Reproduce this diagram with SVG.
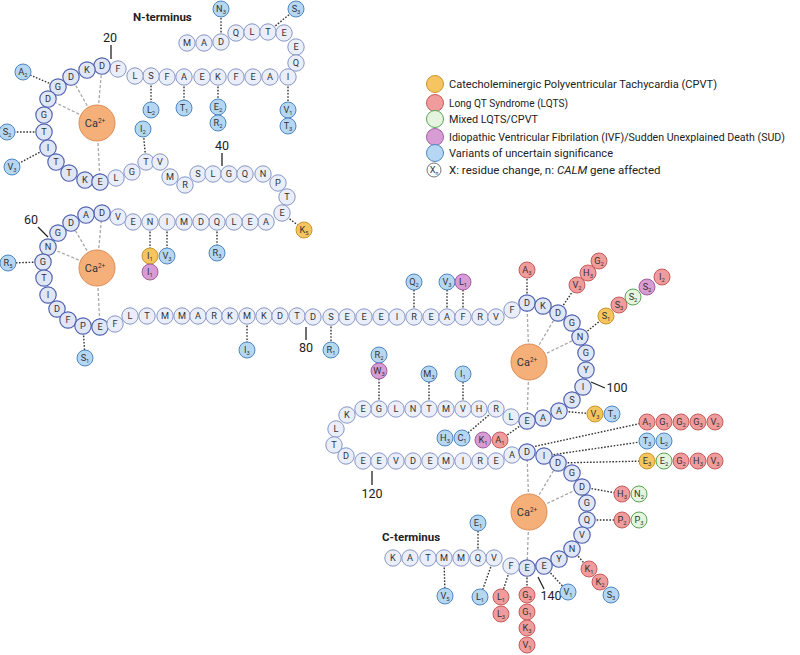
<svg xmlns="http://www.w3.org/2000/svg" width="800" height="655" viewBox="0 0 800 655">
<style>
.r{fill:#e9eef9;stroke:#8896c6;stroke-width:1}
.l{fill:#dfe6f6;stroke:#4d5eae;stroke-width:1.15}
.t{font-family:Roboto,'Liberation Sans',Arial,sans-serif;font-size:9.2px;fill:#333;text-anchor:middle}
.s{font-size:5.8px}
.cp{fill:#f6c560;stroke:#c9962e;stroke-width:1}
.lq{fill:#f09c9c;stroke:#c75a5a;stroke-width:1}
.mx{fill:#e5f4df;stroke:#58a653;stroke-width:1}
.iv{fill:#d89cd4;stroke:#a35fa2;stroke-width:1}
.vu{fill:#b6d7f2;stroke:#4d86c4;stroke-width:1}
.dot{stroke:#333;stroke-width:1.4;stroke-dasharray:1.6 1.6;fill:none}
.cal{stroke:#a8a8a8;stroke-width:1.3;stroke-dasharray:3 2;fill:none}
.tick{stroke:#222;stroke-width:1.3}
.ca{fill:#f5b07a;stroke:#df8c55;stroke-width:1}
.cat{font-family:Roboto,'Liberation Sans',Arial,sans-serif;font-size:11px;fill:#333;text-anchor:middle}
.num{font-family:Roboto,'Liberation Sans',Arial,sans-serif;font-size:12.5px;fill:#222;text-anchor:middle}
.lab{font-family:Roboto,'Liberation Sans',Arial,sans-serif;font-size:11.5px;font-weight:bold;fill:#222}
.leg{font-family:Roboto,'Liberation Sans',Arial,sans-serif;font-size:11.5px;fill:#222}
</style>
<rect width="800" height="655" fill="#fff"/>
<g id="connectors">
<line class="cal" x1="97" y1="123" x2="102" y2="66"/><line class="cal" x1="97" y1="123" x2="71" y2="77"/><line class="cal" x1="97" y1="123" x2="48" y2="99"/><line class="cal" x1="97" y1="123" x2="100" y2="182"/>
<line class="cal" x1="97" y1="268" x2="102" y2="213"/><line class="cal" x1="97" y1="268" x2="71" y2="223"/><line class="cal" x1="97" y1="268" x2="48" y2="247"/><line class="cal" x1="97" y1="268" x2="100" y2="327"/>
<line class="cal" x1="529" y1="362" x2="527" y2="303"/><line class="cal" x1="529" y1="362" x2="558" y2="313"/><line class="cal" x1="529" y1="362" x2="580" y2="337"/><line class="cal" x1="529" y1="362" x2="527" y2="421"/>
<line class="cal" x1="529" y1="512" x2="527" y2="452"/><line class="cal" x1="529" y1="512" x2="558" y2="463"/><line class="cal" x1="529" y1="512" x2="582" y2="487"/><line class="cal" x1="529" y1="512" x2="527" y2="568"/>
<line class="dot" x1="221" y1="42" x2="221" y2="9"/>
<line class="dot" x1="268" y1="32" x2="296" y2="9"/>
<line class="dot" x1="58" y1="87" x2="23" y2="72"/>
<line class="dot" x1="44" y1="132" x2="7" y2="132"/>
<line class="dot" x1="48" y1="148" x2="12" y2="167"/>
<line class="dot" x1="151" y1="76" x2="151" y2="110"/>
<line class="dot" x1="146" y1="162" x2="143" y2="129"/>
<line class="dot" x1="184" y1="77" x2="184" y2="108"/>
<line class="dot" x1="218" y1="77" x2="218" y2="107"/>
<line class="dot" x1="288" y1="77" x2="288" y2="110"/>
<line class="dot" x1="282" y1="213" x2="304" y2="230"/>
<line class="dot" x1="167" y1="222" x2="167" y2="256"/>
<line class="dot" x1="217" y1="222" x2="217" y2="253"/>
<line class="dot" x1="150" y1="222" x2="150" y2="256"/>
<line class="dot" x1="43" y1="262" x2="8" y2="263"/>
<line class="dot" x1="83" y1="326" x2="85" y2="358"/>
<line class="dot" x1="247" y1="316" x2="247" y2="350"/>
<line class="dot" x1="331" y1="317" x2="331" y2="350"/>
<line class="dot" x1="414" y1="317" x2="414" y2="282"/>
<line class="dot" x1="447" y1="317" x2="447" y2="282"/>
<line class="dot" x1="463" y1="317" x2="463" y2="282"/>
<line class="dot" x1="527" y1="303" x2="527" y2="270"/>
<line class="dot" x1="558" y1="313" x2="577" y2="285"/>
<line class="dot" x1="580" y1="337" x2="606" y2="316"/>
<line class="dot" x1="559" y1="411" x2="595" y2="414"/>
<line class="dot" x1="532" y1="447" x2="647" y2="422"/>
<line class="dot" x1="544" y1="456" x2="647" y2="441"/>
<line class="dot" x1="558" y1="463" x2="647" y2="461"/>
<line class="dot" x1="496" y1="409" x2="462" y2="438"/>
<line class="dot" x1="527" y1="421" x2="500" y2="440"/>
<line class="dot" x1="379" y1="409" x2="379" y2="371"/>
<line class="dot" x1="429" y1="409" x2="429" y2="374"/>
<line class="dot" x1="463" y1="409" x2="463" y2="374"/>
<line class="dot" x1="582" y1="487" x2="622" y2="494"/>
<line class="dot" x1="587" y1="520" x2="622" y2="520"/>
<line class="dot" x1="572" y1="549" x2="589" y2="569"/>
<line class="dot" x1="544" y1="566" x2="568" y2="592"/>
<line class="dot" x1="527" y1="568" x2="527" y2="595"/>
<line class="dot" x1="511" y1="566" x2="501" y2="597"/>
<line class="dot" x1="494" y1="558" x2="480" y2="597"/>
<line class="dot" x1="444" y1="558" x2="445" y2="596"/>
<line class="dot" x1="478" y1="558" x2="478" y2="523"/>
<line class="tick" x1="111" y1="45" x2="111" y2="59"/>
<line class="tick" x1="222" y1="153" x2="222" y2="166"/>
<line class="tick" x1="38" y1="227" x2="48" y2="237"/>
<line class="tick" x1="306" y1="327" x2="306" y2="340"/>
<line class="tick" x1="591" y1="382" x2="605" y2="388"/>
<line class="tick" x1="372" y1="471" x2="372" y2="485"/>
<line class="tick" x1="538" y1="577" x2="544" y2="589"/>
</g>
<g id="labels">
<text class="lab" x="133" y="21">N-terminus</text>
<text class="lab" x="382" y="541">C-terminus</text>
<text class="num" x="110" y="42">20</text>
<text class="num" x="222" y="150">40</text>
<text class="num" x="31" y="224">60</text>
<text class="num" x="306" y="352">80</text>
<text class="num" x="617" y="392">100</text>
<text class="num" x="372" y="498">120</text>
<text class="num" x="551" y="600">140</text>
</g>
<g id="calcium">
<g id="ca1"><circle class="ca" cx="97" cy="123" r="18"/><text class="cat" x="95" y="127">Ca<tspan font-size="6.5" dy="-4">2+</tspan></text></g>
<g id="ca2"><circle class="ca" cx="97" cy="268" r="18"/><text class="cat" x="95" y="272">Ca<tspan font-size="6.5" dy="-4">2+</tspan></text></g>
<g id="ca3"><circle class="ca" cx="529" cy="362" r="18"/><text class="cat" x="527" y="366">Ca<tspan font-size="6.5" dy="-4">2+</tspan></text></g>
<g id="ca4"><circle class="ca" cx="529" cy="512" r="18"/><text class="cat" x="527" y="516">Ca<tspan font-size="6.5" dy="-4">2+</tspan></text></g>
</g>
<g id="residues">
<g id="M1"><circle class="r" cx="187" cy="43" r="8.2"/><text class="t" x="187" y="46.3">M</text></g>
<g id="A2"><circle class="r" cx="204" cy="43" r="8.2"/><text class="t" x="204" y="46.3">A</text></g>
<g id="D3"><circle class="r" cx="221" cy="42" r="8.2"/><text class="t" x="221" y="45.3">D</text></g>
<g id="Q4"><circle class="r" cx="236" cy="33" r="8.2"/><text class="t" x="236" y="36.3">Q</text></g>
<g id="L5"><circle class="r" cx="252" cy="32" r="8.2"/><text class="t" x="252" y="35.3">L</text></g>
<g id="T6"><circle class="r" cx="268" cy="32" r="8.2"/><text class="t" x="268" y="35.3">T</text></g>
<g id="E7"><circle class="r" cx="284" cy="33" r="8.2"/><text class="t" x="284" y="36.3">E</text></g>
<g id="E8"><circle class="r" cx="296" cy="47" r="8.2"/><text class="t" x="296" y="50.3">E</text></g>
<g id="Q9"><circle class="r" cx="296" cy="63" r="8.2"/><text class="t" x="296" y="66.3">Q</text></g>
<g id="I10"><circle class="r" cx="288" cy="77" r="8.2"/><text class="t" x="288" y="80.3">I</text></g>
<g id="A11"><circle class="r" cx="270" cy="77" r="8.2"/><text class="t" x="270" y="80.3">A</text></g>
<g id="E12"><circle class="r" cx="253" cy="77" r="8.2"/><text class="t" x="253" y="80.3">E</text></g>
<g id="F13"><circle class="r" cx="236" cy="77" r="8.2"/><text class="t" x="236" y="80.3">F</text></g>
<g id="K14"><circle class="r" cx="218" cy="77" r="8.2"/><text class="t" x="218" y="80.3">K</text></g>
<g id="E15"><circle class="r" cx="202" cy="77" r="8.2"/><text class="t" x="202" y="80.3">E</text></g>
<g id="A16"><circle class="r" cx="184" cy="77" r="8.2"/><text class="t" x="184" y="80.3">A</text></g>
<g id="F17"><circle class="r" cx="167" cy="77" r="8.2"/><text class="t" x="167" y="80.3">F</text></g>
<g id="S18"><circle class="r" cx="151" cy="76" r="8.2"/><text class="t" x="151" y="79.3">S</text></g>
<g id="L19"><circle class="r" cx="135" cy="76" r="8.2"/><text class="t" x="135" y="79.3">L</text></g>
<g id="F20"><circle class="r" cx="118" cy="69" r="8.2"/><text class="t" x="118" y="72.3">F</text></g>
<g id="D21"><circle class="l" cx="102" cy="66" r="8.2"/><text class="t" x="102" y="69.3">D</text></g>
<g id="K22"><circle class="l" cx="87" cy="70" r="8.2"/><text class="t" x="87" y="73.3">K</text></g>
<g id="D23"><circle class="l" cx="71" cy="77" r="8.2"/><text class="t" x="71" y="80.3">D</text></g>
<g id="G24"><circle class="l" cx="58" cy="87" r="8.2"/><text class="t" x="58" y="90.3">G</text></g>
<g id="D25"><circle class="l" cx="48" cy="99" r="8.2"/><text class="t" x="48" y="102.3">D</text></g>
<g id="G26"><circle class="l" cx="44" cy="115" r="8.2"/><text class="t" x="44" y="118.3">G</text></g>
<g id="T27"><circle class="l" cx="44" cy="132" r="8.2"/><text class="t" x="44" y="135.3">T</text></g>
<g id="I28"><circle class="l" cx="48" cy="148" r="8.2"/><text class="t" x="48" y="151.3">I</text></g>
<g id="T29"><circle class="l" cx="56" cy="162" r="8.2"/><text class="t" x="56" y="165.3">T</text></g>
<g id="T30"><circle class="l" cx="69" cy="173" r="8.2"/><text class="t" x="69" y="176.3">T</text></g>
<g id="K31"><circle class="l" cx="85" cy="180" r="8.2"/><text class="t" x="85" y="183.3">K</text></g>
<g id="E32"><circle class="l" cx="100" cy="182" r="8.2"/><text class="t" x="100" y="185.3">E</text></g>
<g id="L33"><circle class="r" cx="116" cy="178" r="8.2"/><text class="t" x="116" y="181.3">L</text></g>
<g id="G34"><circle class="r" cx="132" cy="172" r="8.2"/><text class="t" x="132" y="175.3">G</text></g>
<g id="T35"><circle class="r" cx="146" cy="162" r="8.2"/><text class="t" x="146" y="165.3">T</text></g>
<g id="V36"><circle class="r" cx="160" cy="162" r="8.2"/><text class="t" x="160" y="165.3">V</text></g>
<g id="M37"><circle class="r" cx="170" cy="177" r="8.2"/><text class="t" x="170" y="180.3">M</text></g>
<g id="R38"><circle class="r" cx="185" cy="185" r="8.2"/><text class="t" x="185" y="188.3">R</text></g>
<g id="S39"><circle class="r" cx="198" cy="174" r="8.2"/><text class="t" x="198" y="177.3">S</text></g>
<g id="L40"><circle class="r" cx="213" cy="174" r="8.2"/><text class="t" x="213" y="177.3">L</text></g>
<g id="G41"><circle class="r" cx="229" cy="174" r="8.2"/><text class="t" x="229" y="177.3">G</text></g>
<g id="Q42"><circle class="r" cx="245" cy="174" r="8.2"/><text class="t" x="245" y="177.3">Q</text></g>
<g id="N43"><circle class="r" cx="263" cy="174" r="8.2"/><text class="t" x="263" y="177.3">N</text></g>
<g id="P44"><circle class="r" cx="278" cy="183" r="8.2"/><text class="t" x="278" y="186.3">P</text></g>
<g id="T45"><circle class="r" cx="287" cy="197" r="8.2"/><text class="t" x="287" y="200.3">T</text></g>
<g id="E46"><circle class="r" cx="282" cy="213" r="8.2"/><text class="t" x="282" y="216.3">E</text></g>
<g id="A47"><circle class="r" cx="266" cy="222" r="8.2"/><text class="t" x="266" y="225.3">A</text></g>
<g id="E48"><circle class="r" cx="250" cy="222" r="8.2"/><text class="t" x="250" y="225.3">E</text></g>
<g id="L49"><circle class="r" cx="234" cy="222" r="8.2"/><text class="t" x="234" y="225.3">L</text></g>
<g id="Q50"><circle class="r" cx="217" cy="222" r="8.2"/><text class="t" x="217" y="225.3">Q</text></g>
<g id="D51"><circle class="r" cx="201" cy="222" r="8.2"/><text class="t" x="201" y="225.3">D</text></g>
<g id="M52"><circle class="r" cx="184" cy="222" r="8.2"/><text class="t" x="184" y="225.3">M</text></g>
<g id="I53"><circle class="r" cx="167" cy="222" r="8.2"/><text class="t" x="167" y="225.3">I</text></g>
<g id="N54"><circle class="r" cx="150" cy="222" r="8.2"/><text class="t" x="150" y="225.3">N</text></g>
<g id="E55"><circle class="r" cx="133" cy="222" r="8.2"/><text class="t" x="133" y="225.3">E</text></g>
<g id="V56"><circle class="r" cx="118" cy="217" r="8.2"/><text class="t" x="118" y="220.3">V</text></g>
<g id="D57"><circle class="l" cx="102" cy="213" r="8.2"/><text class="t" x="102" y="216.3">D</text></g>
<g id="A58"><circle class="l" cx="86" cy="215" r="8.2"/><text class="t" x="86" y="218.3">A</text></g>
<g id="D59"><circle class="l" cx="71" cy="223" r="8.2"/><text class="t" x="71" y="226.3">D</text></g>
<g id="G60"><circle class="l" cx="58" cy="233" r="8.2"/><text class="t" x="58" y="236.3">G</text></g>
<g id="N61"><circle class="l" cx="48" cy="247" r="8.2"/><text class="t" x="48" y="250.3">N</text></g>
<g id="G62"><circle class="l" cx="43" cy="262" r="8.2"/><text class="t" x="43" y="265.3">G</text></g>
<g id="T63"><circle class="l" cx="44" cy="278" r="8.2"/><text class="t" x="44" y="281.3">T</text></g>
<g id="I64"><circle class="l" cx="48" cy="295" r="8.2"/><text class="t" x="48" y="298.3">I</text></g>
<g id="D65"><circle class="l" cx="57" cy="309" r="8.2"/><text class="t" x="57" y="312.3">D</text></g>
<g id="F66"><circle class="l" cx="68" cy="320" r="8.2"/><text class="t" x="68" y="323.3">F</text></g>
<g id="P67"><circle class="l" cx="83" cy="326" r="8.2"/><text class="t" x="83" y="329.3">P</text></g>
<g id="E68"><circle class="l" cx="100" cy="327" r="8.2"/><text class="t" x="100" y="330.3">E</text></g>
<g id="F69"><circle class="r" cx="115" cy="324" r="8.2"/><text class="t" x="115" y="327.3">F</text></g>
<g id="L70"><circle class="r" cx="130" cy="316" r="8.2"/><text class="t" x="130" y="319.3">L</text></g>
<g id="T71"><circle class="r" cx="147" cy="316" r="8.2"/><text class="t" x="147" y="319.3">T</text></g>
<g id="M72"><circle class="r" cx="165" cy="316" r="8.2"/><text class="t" x="165" y="319.3">M</text></g>
<g id="M73"><circle class="r" cx="182" cy="316" r="8.2"/><text class="t" x="182" y="319.3">M</text></g>
<g id="A74"><circle class="r" cx="198" cy="316" r="8.2"/><text class="t" x="198" y="319.3">A</text></g>
<g id="R75"><circle class="r" cx="214" cy="316" r="8.2"/><text class="t" x="214" y="319.3">R</text></g>
<g id="K76"><circle class="r" cx="230" cy="316" r="8.2"/><text class="t" x="230" y="319.3">K</text></g>
<g id="M77"><circle class="r" cx="247" cy="316" r="8.2"/><text class="t" x="247" y="319.3">M</text></g>
<g id="K78"><circle class="r" cx="264" cy="316" r="8.2"/><text class="t" x="264" y="319.3">K</text></g>
<g id="D79"><circle class="r" cx="280" cy="316" r="8.2"/><text class="t" x="280" y="319.3">D</text></g>
<g id="T80"><circle class="r" cx="297" cy="316" r="8.2"/><text class="t" x="297" y="319.3">T</text></g>
<g id="D81"><circle class="r" cx="313" cy="317" r="8.2"/><text class="t" x="313" y="320.3">D</text></g>
<g id="S82"><circle class="r" cx="331" cy="317" r="8.2"/><text class="t" x="331" y="320.3">S</text></g>
<g id="E83"><circle class="r" cx="347" cy="317" r="8.2"/><text class="t" x="347" y="320.3">E</text></g>
<g id="E84"><circle class="r" cx="364" cy="317" r="8.2"/><text class="t" x="364" y="320.3">E</text></g>
<g id="E85"><circle class="r" cx="381" cy="317" r="8.2"/><text class="t" x="381" y="320.3">E</text></g>
<g id="I86"><circle class="r" cx="397" cy="317" r="8.2"/><text class="t" x="397" y="320.3">I</text></g>
<g id="R87"><circle class="r" cx="414" cy="317" r="8.2"/><text class="t" x="414" y="320.3">R</text></g>
<g id="E88"><circle class="r" cx="431" cy="317" r="8.2"/><text class="t" x="431" y="320.3">E</text></g>
<g id="A89"><circle class="r" cx="447" cy="317" r="8.2"/><text class="t" x="447" y="320.3">A</text></g>
<g id="F90"><circle class="r" cx="463" cy="317" r="8.2"/><text class="t" x="463" y="320.3">F</text></g>
<g id="R91"><circle class="r" cx="480" cy="317" r="8.2"/><text class="t" x="480" y="320.3">R</text></g>
<g id="V92"><circle class="r" cx="496" cy="317" r="8.2"/><text class="t" x="496" y="320.3">V</text></g>
<g id="F93"><circle class="r" cx="512" cy="310" r="8.2"/><text class="t" x="512" y="313.3">F</text></g>
<g id="D94"><circle class="l" cx="527" cy="303" r="8.2"/><text class="t" x="527" y="306.3">D</text></g>
<g id="K95"><circle class="l" cx="543" cy="306" r="8.2"/><text class="t" x="543" y="309.3">K</text></g>
<g id="D96"><circle class="l" cx="558" cy="313" r="8.2"/><text class="t" x="558" y="316.3">D</text></g>
<g id="G97"><circle class="l" cx="572" cy="323" r="8.2"/><text class="t" x="572" y="326.3">G</text></g>
<g id="N98"><circle class="l" cx="580" cy="337" r="8.2"/><text class="t" x="580" y="340.3">N</text></g>
<g id="G99"><circle class="l" cx="586" cy="353" r="8.2"/><text class="t" x="586" y="356.3">G</text></g>
<g id="Y100"><circle class="l" cx="586" cy="370" r="8.2"/><text class="t" x="586" y="373.3">Y</text></g>
<g id="I101"><circle class="l" cx="583" cy="387" r="8.2"/><text class="t" x="583" y="390.3">I</text></g>
<g id="S102"><circle class="l" cx="572" cy="400" r="8.2"/><text class="t" x="572" y="403.3">S</text></g>
<g id="A103"><circle class="l" cx="559" cy="411" r="8.2"/><text class="t" x="559" y="414.3">A</text></g>
<g id="A104"><circle class="l" cx="543" cy="418" r="8.2"/><text class="t" x="543" y="421.3">A</text></g>
<g id="E105"><circle class="l" cx="527" cy="421" r="8.2"/><text class="t" x="527" y="424.3">E</text></g>
<g id="L106"><circle class="r" cx="511" cy="417" r="8.2"/><text class="t" x="511" y="420.3">L</text></g>
<g id="R107"><circle class="r" cx="496" cy="409" r="8.2"/><text class="t" x="496" y="412.3">R</text></g>
<g id="H108"><circle class="r" cx="479" cy="409" r="8.2"/><text class="t" x="479" y="412.3">H</text></g>
<g id="V109"><circle class="r" cx="463" cy="409" r="8.2"/><text class="t" x="463" y="412.3">V</text></g>
<g id="M110"><circle class="r" cx="446" cy="409" r="8.2"/><text class="t" x="446" y="412.3">M</text></g>
<g id="T111"><circle class="r" cx="429" cy="409" r="8.2"/><text class="t" x="429" y="412.3">T</text></g>
<g id="N112"><circle class="r" cx="413" cy="409" r="8.2"/><text class="t" x="413" y="412.3">N</text></g>
<g id="L113"><circle class="r" cx="396" cy="409" r="8.2"/><text class="t" x="396" y="412.3">L</text></g>
<g id="G114"><circle class="r" cx="379" cy="409" r="8.2"/><text class="t" x="379" y="412.3">G</text></g>
<g id="E115"><circle class="r" cx="363" cy="409" r="8.2"/><text class="t" x="363" y="412.3">E</text></g>
<g id="K116"><circle class="r" cx="347" cy="415" r="8.2"/><text class="t" x="347" y="418.3">K</text></g>
<g id="L117"><circle class="r" cx="336" cy="429" r="8.2"/><text class="t" x="336" y="432.3">L</text></g>
<g id="T118"><circle class="r" cx="334" cy="445" r="8.2"/><text class="t" x="334" y="448.3">T</text></g>
<g id="D119"><circle class="r" cx="346" cy="456" r="8.2"/><text class="t" x="346" y="459.3">D</text></g>
<g id="E120"><circle class="r" cx="363" cy="461" r="8.2"/><text class="t" x="363" y="464.3">E</text></g>
<g id="E121"><circle class="r" cx="379" cy="461" r="8.2"/><text class="t" x="379" y="464.3">E</text></g>
<g id="V122"><circle class="r" cx="396" cy="461" r="8.2"/><text class="t" x="396" y="464.3">V</text></g>
<g id="D123"><circle class="r" cx="413" cy="461" r="8.2"/><text class="t" x="413" y="464.3">D</text></g>
<g id="E124"><circle class="r" cx="430" cy="461" r="8.2"/><text class="t" x="430" y="464.3">E</text></g>
<g id="M125"><circle class="r" cx="446" cy="461" r="8.2"/><text class="t" x="446" y="464.3">M</text></g>
<g id="I126"><circle class="r" cx="463" cy="461" r="8.2"/><text class="t" x="463" y="464.3">I</text></g>
<g id="R127"><circle class="r" cx="480" cy="461" r="8.2"/><text class="t" x="480" y="464.3">R</text></g>
<g id="E128"><circle class="r" cx="496" cy="461" r="8.2"/><text class="t" x="496" y="464.3">E</text></g>
<g id="A129"><circle class="r" cx="512" cy="455" r="8.2"/><text class="t" x="512" y="458.3">A</text></g>
<g id="D130"><circle class="l" cx="527" cy="452" r="8.2"/><text class="t" x="527" y="455.3">D</text></g>
<g id="I131"><circle class="l" cx="544" cy="456" r="8.2"/><text class="t" x="544" y="459.3">I</text></g>
<g id="D132"><circle class="l" cx="558" cy="463" r="8.2"/><text class="t" x="558" y="466.3">D</text></g>
<g id="G133"><circle class="l" cx="572" cy="473" r="8.2"/><text class="t" x="572" y="476.3">G</text></g>
<g id="D134"><circle class="l" cx="582" cy="487" r="8.2"/><text class="t" x="582" y="490.3">D</text></g>
<g id="G135"><circle class="l" cx="587" cy="503" r="8.2"/><text class="t" x="587" y="506.3">G</text></g>
<g id="Q136"><circle class="l" cx="587" cy="520" r="8.2"/><text class="t" x="587" y="523.3">Q</text></g>
<g id="V137"><circle class="l" cx="582" cy="535" r="8.2"/><text class="t" x="582" y="538.3">V</text></g>
<g id="N138"><circle class="l" cx="572" cy="549" r="8.2"/><text class="t" x="572" y="552.3">N</text></g>
<g id="Y139"><circle class="l" cx="559" cy="559" r="8.2"/><text class="t" x="559" y="562.3">Y</text></g>
<g id="E140"><circle class="l" cx="544" cy="566" r="8.2"/><text class="t" x="544" y="569.3">E</text></g>
<g id="E141"><circle class="l" cx="527" cy="568" r="8.2"/><text class="t" x="527" y="571.3">E</text></g>
<g id="F142"><circle class="r" cx="511" cy="566" r="8.2"/><text class="t" x="511" y="569.3">F</text></g>
<g id="V143"><circle class="r" cx="494" cy="558" r="8.2"/><text class="t" x="494" y="561.3">V</text></g>
<g id="Q144"><circle class="r" cx="478" cy="558" r="8.2"/><text class="t" x="478" y="561.3">Q</text></g>
<g id="M145"><circle class="r" cx="461" cy="558" r="8.2"/><text class="t" x="461" y="561.3">M</text></g>
<g id="M146"><circle class="r" cx="444" cy="558" r="8.2"/><text class="t" x="444" y="561.3">M</text></g>
<g id="T147"><circle class="r" cx="428" cy="558" r="8.2"/><text class="t" x="428" y="561.3">T</text></g>
<g id="A148"><circle class="r" cx="410" cy="558" r="8.2"/><text class="t" x="410" y="561.3">A</text></g>
<g id="K149"><circle class="r" cx="393" cy="558" r="8.2"/><text class="t" x="393" y="561.3">K</text></g>
</g>
<g id="variants">
<g id="v1"><circle class="vu" cx="221" cy="9" r="8"/><text class="t" x="221" y="12">N<tspan class="s" dy="1.5">3</tspan></text></g>
<g id="v2"><circle class="vu" cx="296" cy="9" r="8"/><text class="t" x="296" y="12">S<tspan class="s" dy="1.5">3</tspan></text></g>
<g id="v3"><circle class="vu" cx="23" cy="72" r="8"/><text class="t" x="23" y="75">A<tspan class="s" dy="1.5">2</tspan></text></g>
<g id="v4"><circle class="vu" cx="7" cy="132" r="8"/><text class="t" x="7" y="135">S<tspan class="s" dy="1.5">2</tspan></text></g>
<g id="v5"><circle class="vu" cx="12" cy="167" r="8"/><text class="t" x="12" y="170">V<tspan class="s" dy="1.5">3</tspan></text></g>
<g id="v6"><circle class="vu" cx="151" cy="110" r="8"/><text class="t" x="151" y="113">L<tspan class="s" dy="1.5">2</tspan></text></g>
<g id="v7"><circle class="vu" cx="143" cy="129" r="8"/><text class="t" x="143" y="132">I<tspan class="s" dy="1.5">2</tspan></text></g>
<g id="v8"><circle class="vu" cx="184" cy="108" r="8"/><text class="t" x="184" y="111">T<tspan class="s" dy="1.5">1</tspan></text></g>
<g id="v9"><circle class="vu" cx="218" cy="107" r="8"/><text class="t" x="218" y="110">E<tspan class="s" dy="1.5">2</tspan></text></g>
<g id="v10"><circle class="vu" cx="218" cy="123" r="8"/><text class="t" x="218" y="126">R<tspan class="s" dy="1.5">2</tspan></text></g>
<g id="v11"><circle class="vu" cx="288" cy="110" r="8"/><text class="t" x="288" y="113">V<tspan class="s" dy="1.5">1</tspan></text></g>
<g id="v12"><circle class="vu" cx="288" cy="126" r="8"/><text class="t" x="288" y="129">T<tspan class="s" dy="1.5">3</tspan></text></g>
<g id="v13"><circle class="cp" cx="304" cy="230" r="8"/><text class="t" x="304" y="233">K<tspan class="s" dy="1.5">5</tspan></text></g>
<g id="v14"><circle class="vu" cx="167" cy="256" r="8"/><text class="t" x="167" y="259">V<tspan class="s" dy="1.5">3</tspan></text></g>
<g id="v15"><circle class="vu" cx="217" cy="253" r="8"/><text class="t" x="217" y="256">R<tspan class="s" dy="1.5">3</tspan></text></g>
<g id="v16"><circle class="cp" cx="150" cy="256" r="8"/><text class="t" x="150" y="259">I<tspan class="s" dy="1.5">1</tspan></text></g>
<g id="v17"><circle class="iv" cx="150" cy="272" r="8"/><text class="t" x="150" y="275">I<tspan class="s" dy="1.5">1</tspan></text></g>
<g id="v18"><circle class="vu" cx="8" cy="263" r="8"/><text class="t" x="8" y="266">R<tspan class="s" dy="1.5">5</tspan></text></g>
<g id="v19"><circle class="vu" cx="85" cy="358" r="8"/><text class="t" x="85" y="361">S<tspan class="s" dy="1.5">1</tspan></text></g>
<g id="v20"><circle class="vu" cx="247" cy="350" r="8"/><text class="t" x="247" y="353">I<tspan class="s" dy="1.5">3</tspan></text></g>
<g id="v21"><circle class="vu" cx="331" cy="350" r="8"/><text class="t" x="331" y="353">R<tspan class="s" dy="1.5">1</tspan></text></g>
<g id="v22"><circle class="vu" cx="414" cy="282" r="8"/><text class="t" x="414" y="285">Q<tspan class="s" dy="1.5">2</tspan></text></g>
<g id="v23"><circle class="vu" cx="447" cy="282" r="8"/><text class="t" x="447" y="285">V<tspan class="s" dy="1.5">3</tspan></text></g>
<g id="v24"><circle class="iv" cx="463" cy="282" r="8"/><text class="t" x="463" y="285">L<tspan class="s" dy="1.5">1</tspan></text></g>
<g id="v25"><circle class="lq" cx="527" cy="270" r="8"/><text class="t" x="527" y="273">A<tspan class="s" dy="1.5">3</tspan></text></g>
<g id="v26"><circle class="lq" cx="577" cy="285" r="8"/><text class="t" x="577" y="288">V<tspan class="s" dy="1.5">2</tspan></text></g>
<g id="v27"><circle class="lq" cx="588" cy="273" r="8"/><text class="t" x="588" y="276">H<tspan class="s" dy="1.5">3</tspan></text></g>
<g id="v28"><circle class="lq" cx="599" cy="261" r="8"/><text class="t" x="599" y="264">G<tspan class="s" dy="1.5">2</tspan></text></g>
<g id="v29"><circle class="cp" cx="606" cy="316" r="8"/><text class="t" x="606" y="319">S<tspan class="s" dy="1.5">1</tspan></text></g>
<g id="v30"><circle class="lq" cx="619" cy="305" r="8"/><text class="t" x="619" y="308">S<tspan class="s" dy="1.5">3</tspan></text></g>
<g id="v31"><circle class="mx" cx="633" cy="297" r="8"/><text class="t" x="633" y="300">S<tspan class="s" dy="1.5">2</tspan></text></g>
<g id="v32"><circle class="iv" cx="647" cy="287" r="8"/><text class="t" x="647" y="290">S<tspan class="s" dy="1.5">2</tspan></text></g>
<g id="v33"><circle class="lq" cx="662" cy="277" r="8"/><text class="t" x="662" y="280">I<tspan class="s" dy="1.5">2</tspan></text></g>
<g id="v34"><circle class="cp" cx="595" cy="414" r="8"/><text class="t" x="595" y="417">V<tspan class="s" dy="1.5">3</tspan></text></g>
<g id="v35"><circle class="vu" cx="612" cy="414" r="8"/><text class="t" x="612" y="417">T<tspan class="s" dy="1.5">3</tspan></text></g>
<g id="v36"><circle class="lq" cx="647" cy="422" r="8"/><text class="t" x="647" y="425">A<tspan class="s" dy="1.5">1</tspan></text></g>
<g id="v37"><circle class="lq" cx="664" cy="422" r="8"/><text class="t" x="664" y="425">G<tspan class="s" dy="1.5">1</tspan></text></g>
<g id="v38"><circle class="lq" cx="681" cy="422" r="8"/><text class="t" x="681" y="425">G<tspan class="s" dy="1.5">2</tspan></text></g>
<g id="v39"><circle class="lq" cx="698" cy="422" r="8"/><text class="t" x="698" y="425">G<tspan class="s" dy="1.5">3</tspan></text></g>
<g id="v40"><circle class="lq" cx="715" cy="422" r="8"/><text class="t" x="715" y="425">V<tspan class="s" dy="1.5">2</tspan></text></g>
<g id="v41"><circle class="vu" cx="647" cy="441" r="8"/><text class="t" x="647" y="444">T<tspan class="s" dy="1.5">3</tspan></text></g>
<g id="v42"><circle class="vu" cx="664" cy="441" r="8"/><text class="t" x="664" y="444">L<tspan class="s" dy="1.5">2</tspan></text></g>
<g id="v43"><circle class="cp" cx="647" cy="461" r="8"/><text class="t" x="647" y="464">E<tspan class="s" dy="1.5">3</tspan></text></g>
<g id="v44"><circle class="mx" cx="664" cy="461" r="8"/><text class="t" x="664" y="464">E<tspan class="s" dy="1.5">2</tspan></text></g>
<g id="v45"><circle class="lq" cx="681" cy="461" r="8"/><text class="t" x="681" y="464">G<tspan class="s" dy="1.5">2</tspan></text></g>
<g id="v46"><circle class="lq" cx="698" cy="461" r="8"/><text class="t" x="698" y="464">H<tspan class="s" dy="1.5">3</tspan></text></g>
<g id="v47"><circle class="lq" cx="715" cy="461" r="8"/><text class="t" x="715" y="464">V<tspan class="s" dy="1.5">3</tspan></text></g>
<g id="v48"><circle class="vu" cx="445" cy="438" r="8"/><text class="t" x="445" y="441">H<tspan class="s" dy="1.5">3</tspan></text></g>
<g id="v49"><circle class="vu" cx="462" cy="438" r="8"/><text class="t" x="462" y="441">C<tspan class="s" dy="1.5">1</tspan></text></g>
<g id="v50"><circle class="iv" cx="483" cy="440" r="8"/><text class="t" x="483" y="443">K<tspan class="s" dy="1.5">1</tspan></text></g>
<g id="v51"><circle class="lq" cx="500" cy="440" r="8"/><text class="t" x="500" y="443">A<tspan class="s" dy="1.5">1</tspan></text></g>
<g id="v52"><circle class="vu" cx="379" cy="355" r="8"/><text class="t" x="379" y="358">R<tspan class="s" dy="1.5">2</tspan></text></g>
<g id="v53"><circle class="iv" cx="379" cy="371" r="8"/><text class="t" x="379" y="374">W<tspan class="s" dy="1.5">3</tspan></text></g>
<g id="v54"><circle class="vu" cx="429" cy="374" r="8"/><text class="t" x="429" y="377">M<tspan class="s" dy="1.5">3</tspan></text></g>
<g id="v55"><circle class="vu" cx="463" cy="374" r="8"/><text class="t" x="463" y="377">I<tspan class="s" dy="1.5">1</tspan></text></g>
<g id="v56"><circle class="lq" cx="622" cy="494" r="8"/><text class="t" x="622" y="497">H<tspan class="s" dy="1.5">3</tspan></text></g>
<g id="v57"><circle class="mx" cx="639" cy="494" r="8"/><text class="t" x="639" y="497">N<tspan class="s" dy="1.5">2</tspan></text></g>
<g id="v58"><circle class="lq" cx="622" cy="520" r="8"/><text class="t" x="622" y="523">P<tspan class="s" dy="1.5">2</tspan></text></g>
<g id="v59"><circle class="mx" cx="639" cy="520" r="8"/><text class="t" x="639" y="523">P<tspan class="s" dy="1.5">3</tspan></text></g>
<g id="v60"><circle class="lq" cx="589" cy="569" r="8"/><text class="t" x="589" y="572">K<tspan class="s" dy="1.5">1</tspan></text></g>
<g id="v61"><circle class="lq" cx="600" cy="582" r="8"/><text class="t" x="600" y="585">K<tspan class="s" dy="1.5">2</tspan></text></g>
<g id="v62"><circle class="vu" cx="611" cy="595" r="8"/><text class="t" x="611" y="598">S<tspan class="s" dy="1.5">3</tspan></text></g>
<g id="v63"><circle class="vu" cx="568" cy="592" r="8"/><text class="t" x="568" y="595">V<tspan class="s" dy="1.5">1</tspan></text></g>
<g id="v64"><circle class="lq" cx="527" cy="595" r="8"/><text class="t" x="527" y="598">G<tspan class="s" dy="1.5">3</tspan></text></g>
<g id="v65"><circle class="lq" cx="527" cy="612" r="8"/><text class="t" x="527" y="615">G<tspan class="s" dy="1.5">1</tspan></text></g>
<g id="v66"><circle class="lq" cx="527" cy="628" r="8"/><text class="t" x="527" y="631">K<tspan class="s" dy="1.5">3</tspan></text></g>
<g id="v67"><circle class="lq" cx="527" cy="645" r="8"/><text class="t" x="527" y="648">V<tspan class="s" dy="1.5">1</tspan></text></g>
<g id="v68"><circle class="lq" cx="501" cy="597" r="8"/><text class="t" x="501" y="600">L<tspan class="s" dy="1.5">1</tspan></text></g>
<g id="v69"><circle class="lq" cx="501" cy="614" r="8"/><text class="t" x="501" y="617">L<tspan class="s" dy="1.5">3</tspan></text></g>
<g id="v70"><circle class="vu" cx="480" cy="597" r="8"/><text class="t" x="480" y="600">L<tspan class="s" dy="1.5">1</tspan></text></g>
<g id="v71"><circle class="vu" cx="445" cy="596" r="8"/><text class="t" x="445" y="599">V<tspan class="s" dy="1.5">5</tspan></text></g>
<g id="v72"><circle class="vu" cx="478" cy="523" r="8"/><text class="t" x="478" y="526">E<tspan class="s" dy="1.5">1</tspan></text></g>
</g>
<g id="legend">
<g id="leg-cpvt"><circle class="cp" cx="435" cy="84" r="8.5"/><text class="leg" x="449" y="88" textLength="268" lengthAdjust="spacingAndGlyphs">Catecholeminergic Polyventricular Tachycardia (CPVT)</text></g>
<g id="leg-lqts"><circle class="lq" cx="435" cy="103" r="8.5"/><text class="leg" x="449" y="107" textLength="119" lengthAdjust="spacingAndGlyphs">Long QT Syndrome (LQTS)</text></g>
<g id="leg-mixed"><circle class="mx" cx="435" cy="119" r="8.5"/><text class="leg" x="449" y="123" textLength="89" lengthAdjust="spacingAndGlyphs">Mixed LQTS/CPVT</text></g>
<g id="leg-ivf"><circle class="iv" cx="435" cy="137" r="8.5"/><text class="leg" x="449" y="141" style="font-size:10.4px" textLength="336" lengthAdjust="spacingAndGlyphs">Idiopathic Ventricular Fibrilation (IVF)/Sudden Unexplained Death (SUD)</text></g>
<g id="leg-vus"><circle class="vu" cx="435" cy="153" r="8.5"/><text class="leg" x="449" y="157" textLength="164" lengthAdjust="spacingAndGlyphs">Variants of uncertain significance</text></g>
<g id="leg-key"><circle cx="434" cy="170" r="7" fill="#fff" stroke="#777" stroke-width="1"/><text class="t" x="434" y="173" font-size="7.5">X<tspan font-size="5" dy="1.5">n</tspan></text><text class="leg" x="449" y="174">X: residue change, n: <tspan font-style="italic">CALM</tspan> gene affected</text></g>
</g>
</svg>
